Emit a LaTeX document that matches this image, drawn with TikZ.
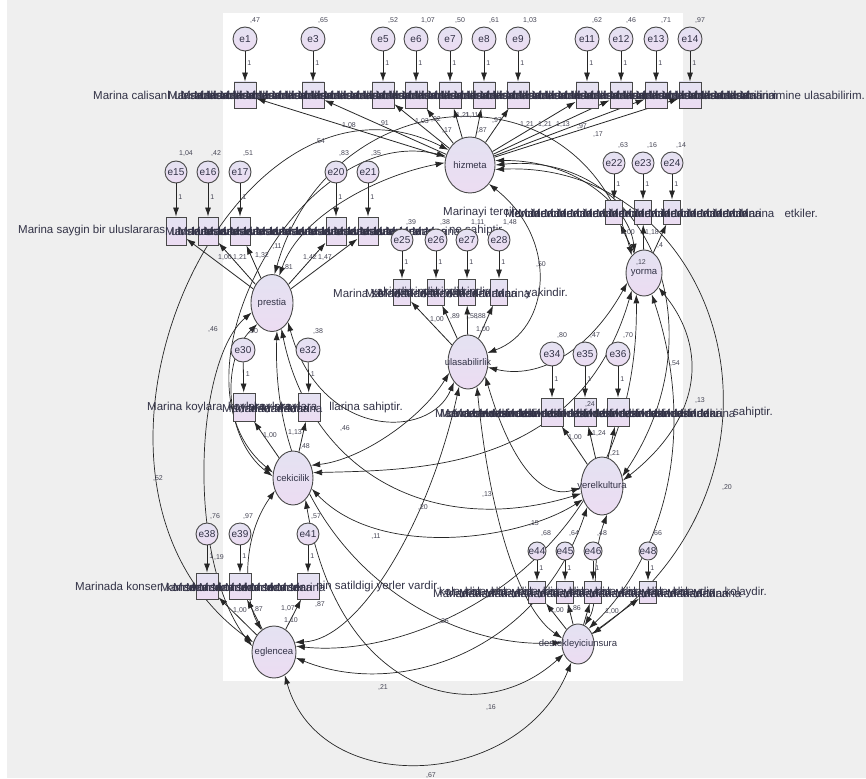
\documentclass[tikz,border=0pt]{standalone}
\usepackage{fontspec}
\setmainfont{Liberation Sans}
\usetikzlibrary{shapes.geometric,arrows.meta}
\pgfdeclarelayer{canvas}
\pgfdeclarelayer{links}
\pgfsetlayers{canvas,links,main}
\definecolor{pagegray}{RGB}{239,239,239}
\definecolor{fillA}{RGB}{228,226,242}
\definecolor{fillB}{RGB}{236,220,242}
\definecolor{edge}{RGB}{72,72,72}
\definecolor{txt}{RGB}{50,50,70}
\definecolor{numc}{RGB}{70,70,85}
\tikzset{
  shade/.style={top color=fillA, bottom color=fillB},
  lat/.style={ellipse, draw=edge, line width=0.9pt, shade, inner sep=0pt},
  latname/.style={font=\fontsize{9.5}{10}\selectfont, text=txt},
  errc/.style={circle, draw=edge, line width=0.9pt, shade, inner sep=0pt, minimum size=#1,
    font=\fontsize{10}{10}\selectfont, text=txt},
  errc/.default=24pt,
  obs/.style 2 args={rectangle, draw=edge, line width=0.9pt, shade, inner sep=0pt,
    minimum width=#1, minimum height=#2},
  num/.style={font=\fontsize{7}{7}\selectfont, text=numc, inner sep=0pt},
  rowtxt/.style={font=\fontsize{11.5}{12}\selectfont, text=txt, inner sep=0pt},
  tip/.style={-{Latex[length=9pt,width=6pt]}, line width=0.8pt, draw=black!85},
  cov/.style={{Latex[length=9pt,width=6pt]}-{Latex[length=9pt,width=6pt]}, line width=0.7pt, draw=black!85},
}
% a row of item captions written over one another: name prefix, y, first x, second x, last x, text
\newcommand\rowband[6]{%
  \foreach \p [count=\k] in {#3,#4,...,#5}{\node[rowtxt, anchor=west] (#1\k) at (\p,#2) {#6};}}
\begin{document}
\begin{tikzpicture}[x=1pt,y=-1pt]
\useasboundingbox (0,0) rectangle (866,778);
\begin{pgfonlayer}{canvas}
  \fill[white] (0,0) rectangle (866,778);
  \fill[pagegray] (7,0) rectangle (866,778);
  \fill[white] (223,13) rectangle (683,681);
\end{pgfonlayer}

% ---------- latent variables ----------
\node[lat, minimum width=50pt, minimum height=56pt, label={[latname]center:hizmeta}] (H) at (470,165) {};
\node[lat, minimum width=42pt, minimum height=57pt, label={[latname]center:prestia}] (P) at (272,303) {};
\node[lat, minimum width=40pt, minimum height=54pt, label={[latname]center:ulasabilirlik}] (U) at (468,362) {};
\node[lat, minimum width=36pt, minimum height=46pt, label={[latname]center:yorma}] (Y) at (644,273) {};
\node[lat, minimum width=40pt, minimum height=54pt, label={[latname]center:cekicilik}] (C) at (293,478) {};
\node[lat, minimum width=42pt, minimum height=58pt, label={[latname]center:yerelkultura}] (K) at (602,486) {};
\node[lat, minimum width=44pt, minimum height=52pt, label={[latname]center:eglencea}] (E) at (274,652) {};
\node[lat, minimum width=32pt, minimum height=40pt, label={[latname]center:destekleyiciunsura}] (D) at (578,644) {};

% ---------- hizmeta indicators ----------
\foreach \n/\x/\v in {1/245/{,47},3/313/{,65},5/383/{,52},6/416/{1,07},7/450/{,50},8/484/{,61},9/518/{1,03},11/587/{,62},12/621/{,46},13/656/{,71},14/690/{,97}}{
  \node[errc=24pt] (e\n) at (\x,39) {e\n};
  \node[obs={22pt}{26pt}] (b\n) at (\x,95) {};
  \node[num, anchor=south west] (v\n) at (\x+5,24) {\v};
  \draw[tip] (e\n) -- node[num, right=2pt, pos=0.4] (o\n) {1} (b\n);
  \begin{pgfonlayer}{links}\draw[tip] (H) -- (b\n);\end{pgfonlayer}
}
\node[rowtxt, anchor=west] (r1l) at (93,95) {Marina calisanl};
\rowband{ra}{95}{168}{181}{750}{Marina}
\rowband{rb}{95}{174}{200}{720}{ulasabilirim}
\node[rowtxt, anchor=east] (r1r) at (865,95) {imine ulasabilirim.};

% ---------- prestia indicators ----------
\foreach \n/\x/\v in {15/176/{1,04},16/208/{,42},17/240/{,51},20/336/{,83},21/368/{,35}}{
  \node[errc=22pt] (e\n) at (\x,172) {e\n};
  \node[obs={20pt}{28pt}] (b\n) at (\x,231) {};
  \node[num, anchor=south west] (v\n) at (\x+3,157) {\v};
  \draw[tip] (e\n) -- node[num, right=2pt, pos=0.4] (o\n) {1} (b\n);
  \begin{pgfonlayer}{links}\draw[tip] (P) -- (b\n);\end{pgfonlayer}
}
\node[rowtxt, anchor=west] (r2l) at (18,231) {Marina saygin bir uluslararas};
\rowband{sa}{231}{165}{178}{430}{Marina}
\rowband{sb}{231}{171}{197}{400}{uluslararas}
\node[rowtxt, anchor=east] (r2r) at (505,231) {ne sahiptir.};

% ---------- ulasabilirlik indicators ----------
\foreach \n/\x/\v in {25/402/{,39},26/436/{,38},27/467/{1,11},28/499/{1,48}}{
  \node[errc=22pt] (e\n) at (\x,240) {e\n};
  \node[obs={17pt}{26pt}] (b\n) at (\x,292) {};
  \node[num, anchor=south west] (v\n) at (\x+4,226) {\v};
  \draw[tip] (e\n) -- node[num, right=2pt, pos=0.4] (o\n) {1} (b\n);
  \begin{pgfonlayer}{links}\draw[tip] (U) -- (b\n);\end{pgfonlayer}
}
\node[rowtxt, anchor=west] (r3l) at (333,293) {Marina sel};
\rowband{ua}{293}{365}{378}{502}{Marina}
\rowband{ub}{293}{371}{397}{470}{yakindir}
\node[rowtxt, anchor=east] (r3r) at (568,294) {yakindir.};

% ---------- yorma indicators ----------
\foreach \n/\x/\v in {22/614/{,63},23/643/{,16},24/672/{,14}}{
  \node[errc=22pt] (e\n) at (\x,163) {e\n};
  \node[obs={17pt}{24pt}] (b\n) at (\x,212) {};
  \node[num, anchor=south west] (v\n) at (\x+4,149) {\v};
  \draw[tip] (e\n) -- node[num, right=2pt, pos=0.4] (o\n) {1} (b\n);
  \begin{pgfonlayer}{links}\draw[tip] (Y) -- (b\n);\end{pgfonlayer}
}
\node[rowtxt, anchor=west] (r4l) at (443,213) {Marinayi tercih};
\rowband{ya}{213}{505}{518}{750}{Marina}
\rowband{yb}{213}{511}{537}{740}{tercih}
\node[rowtxt, anchor=east] (r4r) at (818,213) {etkiler.};

% ---------- cekicilik indicators ----------
\foreach \n/\x/\v in {30/243/{,50},32/308/{,38}}{
  \node[errc=24pt] (e\n) at (\x,350) {e\n};
  \node[obs={22pt}{28pt}] (b\n) at (\x+1,407) {};
  \node[num, anchor=south west] (v\n) at (\x+5,335) {\v};
  \draw[tip] (e\n) -- node[num, right=2pt, pos=0.4] (o\n) {1} (b\n);
  \begin{pgfonlayer}{links}\draw[tip] (C) -- (b\n);\end{pgfonlayer}
}
\node[rowtxt, anchor=west] (r5l) at (147,408) {Marina koylara};
\rowband{ca}{408}{222}{235}{292}{Marina}
\rowband{cb}{408}{228}{254}{280}{koylara}
\node[rowtxt, anchor=east] (r5r) at (403,408) {llarina sahiptir.};

% ---------- yerelkultura indicators ----------
\foreach \n/\x/\v in {34/552/{,80},35/585/{,47},36/618/{,70}}{
  \node[errc=24pt] (e\n) at (\x,354) {e\n};
  \node[obs={22pt}{28pt}] (b\n) at (\x,412) {};
  \node[num, anchor=south west] (v\n) at (\x+5,339) {\v};
  \draw[tip] (e\n) -- node[num, right=2pt, pos=0.4] (o\n) {1} (b\n);
  \begin{pgfonlayer}{links}\draw[tip] (K) -- (b\n);\end{pgfonlayer}
}
\node[rowtxt, anchor=west] (r6l) at (435,413) {Marina cevresindeki};
\rowband{ka}{413}{440}{453}{700}{Marina}
\rowband{kb}{413}{446}{472}{660}{cevresindeki}
\node[rowtxt, anchor=east] (r6r) at (773,413) {sahiptir.};

% ---------- eglencea indicators ----------
\foreach \n/\x/\v in {38/207/{,76},39/240/{,97},41/308/{,57}}{
  \node[errc=22pt] (e\n) at (\x,534) {e\n};
  \node[obs={22pt}{26pt}] (b\n) at (\x,586) {};
  \node[num, anchor=south west] (v\n) at (\x+3,520) {\v};
  \draw[tip] (e\n) -- node[num, right=2pt, pos=0.4] (o\n) {1} (b\n);
  \begin{pgfonlayer}{links}\draw[tip] (E) -- (b\n);\end{pgfonlayer}
}
\node[rowtxt, anchor=west] (r7l) at (75,587) {Marinada konser,};
\rowband{ga}{587}{160}{173}{300}{Marina}
\rowband{gb}{587}{166}{192}{270}{konser}
\node[rowtxt, anchor=east] (r7r) at (440,587) {nin satildigi yerler vardir.};

% ---------- destekleyiciunsura indicators ----------
\foreach \n/\x/\v in {44/537/{,68},45/565/{,64},46/593/{,48},48/648/{,66}}{
  \node[errc=18pt] (e\n) at (\x,551) {e\n};
  \node[obs={17pt}{22pt}] (b\n) at (\x,592) {};
  \node[num, anchor=south west] (v\n) at (\x+4,537) {\v};
  \draw[tip] (e\n) -- node[num, right=2pt, pos=0.4] (o\n) {1} (b\n);
  \begin{pgfonlayer}{links}\draw[tip] (D) -- (b\n);\end{pgfonlayer}
}
\rowband{da}{593}{433}{446}{706}{Marina}
\rowband{db}{593}{439}{465}{680}{kolaydir}
\node[rowtxt, anchor=east] (r8r) at (767,593) {kolaydir.};

% ---------- covariances between latent variables ----------
\begin{pgfonlayer}{links}
\draw[cov] (H.175) .. controls (380,175) and (300,215) .. (P.75);
\draw[cov] (H.160) .. controls (300,120) and (160,380) .. (C.165);
\draw[cov] (H.145) .. controls (230,40) and (30,480) .. (E.155);
\draw[cov] (H.315) .. controls (560,240) and (550,330) .. (U.25);
\draw[cov] (H.10) .. controls (580,160) and (630,210) .. (Y.115);
\draw[cov] (H.0) .. controls (650,150) and (720,330) .. (K.25);
\draw[cov] (H.350) .. controls (720,160) and (820,470) .. (D.35);
\draw[cov] (P.85) .. controls (330,80) and (580,60) .. (Y.125);
\draw[cov] (P.205) .. controls (195,360) and (185,560) .. (E.165);
\draw[cov] (P.235) .. controls (220,360) and (225,440) .. (C.175);
\draw[cov] (P.310) .. controls (320,440) and (430,440) .. (U.235);
\draw[cov] (P.290) .. controls (310,470) and (430,540) .. (K.200);
\draw[cov] (P.280) .. controls (270,540) and (430,650) .. (D.175);
\draw[cov] (Y.210) .. controls (590,350) and (540,380) .. (U.345);
\draw[cov] (Y.235) .. controls (580,470) and (420,470) .. (C.15);
\draw[cov] (Y.315) .. controls (710,350) and (700,420) .. (K.15);
\draw[cov] (Y.250) .. controls (640,560) and (420,660) .. (E.15);
\draw[cov] (Y.290) .. controls (700,440) and (660,560) .. (D.55);
\draw[cov] (U.210) .. controls (420,420) and (360,460) .. (C.35);
\draw[cov] (U.320) .. controls (510,460) and (540,500) .. (K.185);
\draw[cov] (U.250) .. controls (430,520) and (360,640) .. (E.25);
\draw[cov] (U.290) .. controls (490,520) and (520,610) .. (D.160);
\draw[cov] (C.330) .. controls (380,560) and (520,540) .. (K.215);
\draw[cov] (C.215) .. controls (240,540) and (245,600) .. (E.120);
\draw[cov] (C.300) .. controls (340,700) and (480,730) .. (D.215);
\draw[cov] (K.235) .. controls (540,650) and (400,700) .. (E.345);
\draw[cov] (K.280) .. controls (590,560) and (600,600) .. (D.70);
\draw[cov] (E.295) .. controls (320,800) and (520,790) .. (D.250);
\end{pgfonlayer}

% ---------- estimates ----------
\foreach \x/\y/\t [count=\i] in {
  349/126/{1,08},384/124/{,91},422/122/{1,03},436/120/{,92},447/131/{,17},463/116/{1,21},
  472/116/{1,11},482/131/{,87},497/121/{,97},527/125/{1,21},545/125/{1,21},563/125/{1,13},
  582/127/{,97},598/135/{,17},
  225/258/{1,00},240/258/{1,21},262/256/{1,32},310/258/{1,42},325/258/{1,47},277/247/{,11},288/268/{,81},
  320/142/{,54},213/330/{,46},158/478/{,52},
  437/320/{1,00},455/317/{,89},473/317/{,58},481/317/{,88},483/330/{1,00},541/265/{,50},
  628/233/{1,00},652/233/{1,18},660/246/{,4},641/263/{,12},
  270/435/{1,00},295/432/{1,13},305/446/{,48},345/428/{,46},
  575/437/{1,00},599/433/{1,24},590/404/{,24},615/453/{,21},675/364/{,54},700/400/{,13},727/487/{,20},
  487/494/{,13},423/507/{,20},376/537/{,11},534/524/{,15},
  240/610/{1,00},258/609/{,87},288/608/{1,07},291/620/{1,10},320/604/{,87},219/557/{,19},
  557/610/{1,00},574/608/{1,86},612/611/{1,00},
  444/621/{,26},383/687/{,21},491/707/{,16},431/775/{,67}}{
  \node[num] (est\i) at (\x,\y) {\t};
}
\end{tikzpicture}
\end{document}
